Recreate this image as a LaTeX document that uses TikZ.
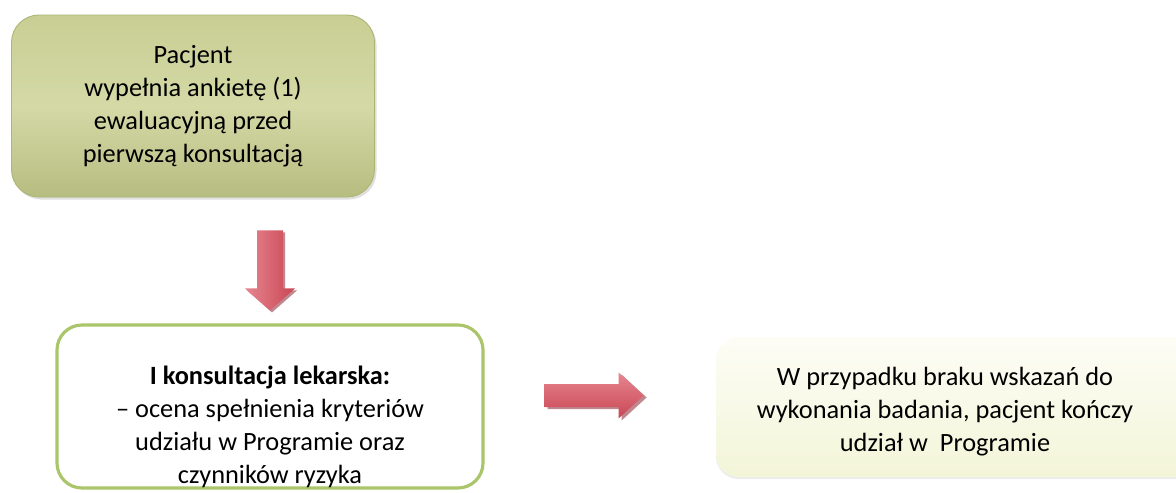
\documentclass[tikz,border=0pt]{standalone}
\usepackage{fontspec}
\setmainfont{Carlito}
\usetikzlibrary{calc,shadows}

\definecolor{oliveA}{HTML}{D4D9A6}
\definecolor{oliveB}{HTML}{C0C787}
\definecolor{oliveEdge}{HTML}{ADB474}
\definecolor{greenEdge}{HTML}{ABC56A}
\definecolor{creamA}{HTML}{FDFDF6}
\definecolor{creamB}{HTML}{F3F5D8}
\definecolor{arrowA}{HTML}{E6868F}
\definecolor{arrowB}{HTML}{C94654}
\definecolor{arrowShadow}{HTML}{8A2631}

\begin{document}
\begin{tikzpicture}[
    txt/.style={align=center, font=\fontsize{15}{18.8}\selectfont, inner sep=0pt},
    ankieta/.style={rounded corners=0.55cm, draw=oliveEdge, line width=0.5pt,
        top color=oliveB!60!oliveA, bottom color=oliveB!95!black, middle color=oliveA,
        minimum width=7.26cm, minimum height=3.64cm,
        drop shadow={opacity=0.25, shadow xshift=0.04cm, shadow yshift=-0.05cm}},
    konsultacja/.style={rounded corners=0.5cm, draw=greenEdge, line width=1.8pt, fill=white,
        minimum width=8.52cm, minimum height=3.26cm},
    koniec/.style={rounded corners=0.45cm, top color=creamA, bottom color=creamB,
        minimum width=10cm, minimum height=2.8cm,
        drop shadow={opacity=0.15, shadow xshift=0cm, shadow yshift=-0.04cm}},
    strzalka/.style={top color=arrowA, bottom color=arrowB},
    cien/.style={fill=arrowShadow, opacity=0.55}
]

    % obszar rysunku
    \useasboundingbox (0,0) rectangle (23.52,-9.84);

    % ramki
    \node[ankieta] (pacjent) at (3.86,-2.12) {};
    \node[konsultacja] (lekarz) at (5.40,-8.13) {};
    \node[koniec] (brak) at (19.32,-8.14) {};

    % teksty w ramkach
    \node[txt] (pacjentTxt) at (pacjent.center)
        {Pacjent\\ wypełnia ankietę (1)\\ ewaluacyjną przed\\ pierwszą konsultacją};
    \node[txt] (lekarzTxt) at ([yshift=-0.4cm]lekarz.center)
        {\textbf{I konsultacja lekarska:}\\ -- ocena spełnienia kryteriów\\ udziału w Programie oraz\\ czynników ryzyka};
    \node[txt] (brakTxt) at ([xshift=-0.42cm,yshift=-0.1cm]brak.center)
        {W przypadku braku wskazań do\\ wykonania badania, pacjent kończy\\ udział w\ \ Programie};

    % strzałka w dół
    \coordinate (dol) at ([yshift=-0.66cm]pacjent.south -| lekarz.north);
    \fill[cien] ($(dol)+(-0.22,-0.04)$) -- ++(0,-1.16) -- ++(-0.24,0) -- ++(0.50,-0.44)
        -- ++(0.50,0.44) -- ++(-0.24,0) -- ++(0,1.16) -- cycle;
    \shade[left color=arrowA, right color=arrowB] ($(dol)+(-0.26,0)$) -- ++(0,-1.16) -- ++(-0.24,0)
        -- ++(0.50,-0.44) -- ++(0.50,0.44) -- ++(-0.24,0) -- ++(0,1.16) -- cycle;

    % strzałka w prawo
    \coordinate (prawo) at (lekarz.east |- 0,-7.90);
    \fill[cien] ($(prawo)+(1.26,0.18)$) -- ++(1.48,0) -- ++(0,0.23) -- ++(0.50,-0.46)
        -- ++(-0.50,-0.46) -- ++(0,0.23) -- ++(-1.48,0) -- cycle;
    \shade[strzalka] ($(prawo)+(1.20,0.22)$) -- ++(1.48,0) -- ++(0,0.23) -- ++(0.50,-0.46)
        -- ++(-0.50,-0.46) -- ++(0,0.23) -- ++(-1.48,0) -- cycle;

\end{tikzpicture}
\end{document}
